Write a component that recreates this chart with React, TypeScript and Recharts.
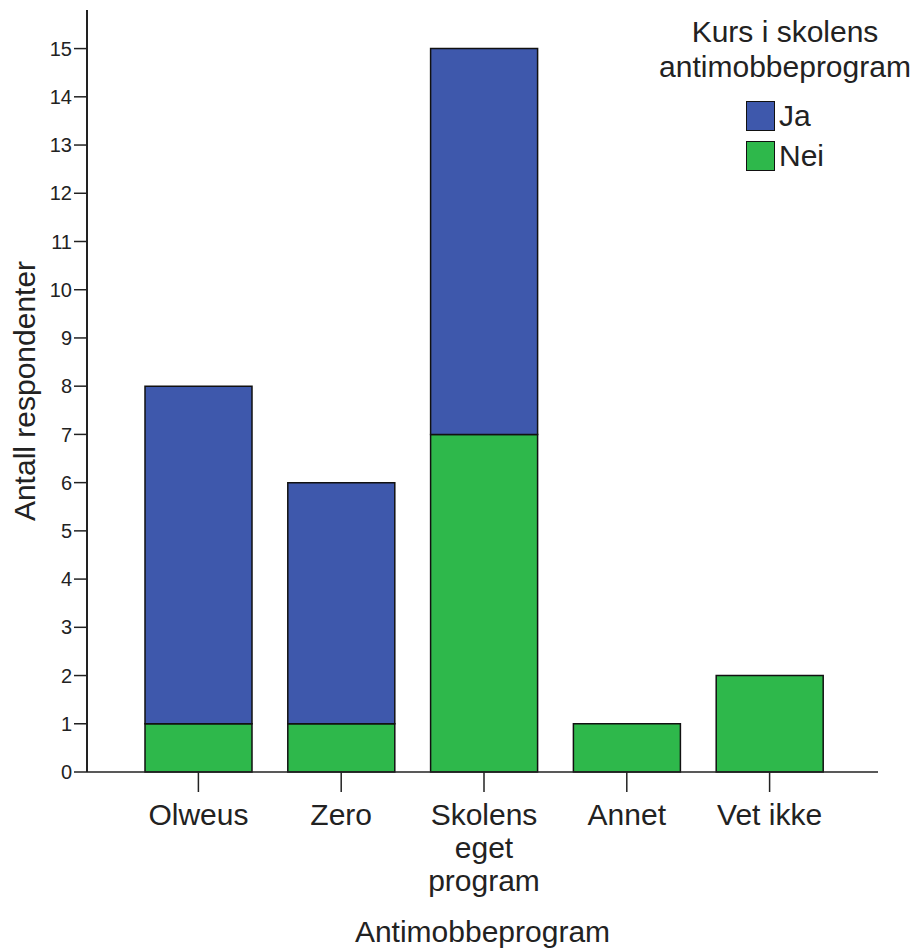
import { BarChart, Bar, XAxis, YAxis, Legend, Label } from "recharts";

const categories = ["Olweus", "Zero", "Skolens eget program", "Annet", "Vet ikke"];
const jaValues = [7, 5, 8, 0, 0];
const neiValues = [1, 1, 7, 1, 2];
const yTicks = [0, 1, 2, 3, 4, 5, 6, 7, 8, 9, 10, 11, 12, 13, 14, 15];

const legendTitle = ["Kurs i skolens", "antimobbeprogram"];
const legendOrder = ["Ja", "Nei"];
const xTitle = "Antimobbeprogram";
const yTitle = "Antall respondenter";

const BLUE = "#3e58ac";
const GREEN = "#2eb84b";
const INK = "#222";
const FONT = "'Liberation Sans', Arial, sans-serif";

const data = categories.map((name, i) => ({
  name,
  Ja: jaValues[i],
  Nei: neiValues[i],
}));

const CategoryTick = ({ x, y, payload }: any) => {
  const label: string = payload.value;
  const lines = label.length > 10 ? label.split(" ") : [label];
  return (
    <text x={x} y={y} textAnchor="middle" fontSize={30} fill={INK} fontFamily={FONT}>
      {lines.map((line, i) => (
        <tspan key={line} x={x} dy={i === 0 ? "0.71em" : 33}>
          {line}
        </tspan>
      ))}
    </text>
  );
};

// positioned absolutely so the legend takes no room from the plot
const LegendBox = ({ payload }: any) => {
  const items = legendOrder
    .map((k) => (payload ?? []).find((p: any) => p.value === k))
    .filter(Boolean);
  return (
    <div
      style={{
        position: "absolute",
        left: 640,
        top: 14,
        fontFamily: FONT,
        color: INK,
        width: 290,
        textAlign: "center",
      }}
    >
      {legendTitle.map((t) => (
        <div key={t} style={{ fontSize: 30, lineHeight: "35px" }}>
          {t}
        </div>
      ))}
      <div style={{ marginTop: 12, display: "inline-block", textAlign: "left" }}>
        {items.map((it: any) => (
          <div key={it.value} style={{ display: "flex", alignItems: "center", height: 40 }}>
            <span
              style={{
                display: "inline-block",
                width: 27,
                height: 28,
                background: it.color,
                border: "1.5px solid #111",
                marginRight: 4,
              }}
            />
            <span style={{ fontSize: 30 }}>{it.value}</span>
          </div>
        ))}
      </div>
    </div>
  );
};

export default function App() {
  return (
    <div style={{ position: "absolute", left: 0, top: 0, background: "#fff" }}>
      <BarChart
        width={919}
        height={949}
        data={data}
        margin={{ top: 10, right: 41, left: 0, bottom: 0 }}
        style={{ fontFamily: FONT }}
      >
        <XAxis
          dataKey="name"
          height={177}
          tick={<CategoryTick />}
          tickSize={20}
          tickMargin={12}
          interval={0}
          padding={{ left: 40, right: 37 }}
          axisLine={{ stroke: INK, strokeWidth: 1.5 }}
          tickLine={{ stroke: INK, strokeWidth: 1.5 }}
        >
          <Label
            content={({ viewBox }: any) => (
              <text
                x={viewBox.x + viewBox.width / 2}
                y={942}
                textAnchor="middle"
                fontSize={30}
                fill={INK}
                fontFamily={FONT}
              >
                {xTitle}
              </text>
            )}
          />
        </XAxis>
        <YAxis
          width={87}
          domain={[0, 15.8]}
          ticks={yTicks}
          interval={0}
          tickSize={13}
          tickMargin={2}
          tick={{ fontSize: 20, fill: INK, fontFamily: FONT }}
          axisLine={{ stroke: INK, strokeWidth: 2 }}
          tickLine={{ stroke: INK, strokeWidth: 1.5 }}
        >
          <Label
            content={({ viewBox }: any) => {
              const cy = viewBox.y + viewBox.height / 2;
              return (
                <text
                  x={35}
                  y={cy}
                  transform={`rotate(-90, 35, ${cy})`}
                  textAnchor="middle"
                  fontSize={30}
                  fill={INK}
                  fontFamily={FONT}
                >
                  {yTitle}
                </text>
              );
            }}
          />
        </YAxis>
        <Legend
          verticalAlign="top"
          align="right"
          content={<LegendBox />}
          wrapperStyle={{ position: "absolute", top: 0, left: 0, width: 0, height: 0 }}
        />
        <Bar dataKey="Nei" stackId="a" fill={GREEN} stroke="#111" strokeWidth={1.5} barSize={107} isAnimationActive={false} />
        <Bar dataKey="Ja" stackId="a" fill={BLUE} stroke="#111" strokeWidth={1.5} barSize={107} isAnimationActive={false} />
      </BarChart>
    </div>
  );
}
